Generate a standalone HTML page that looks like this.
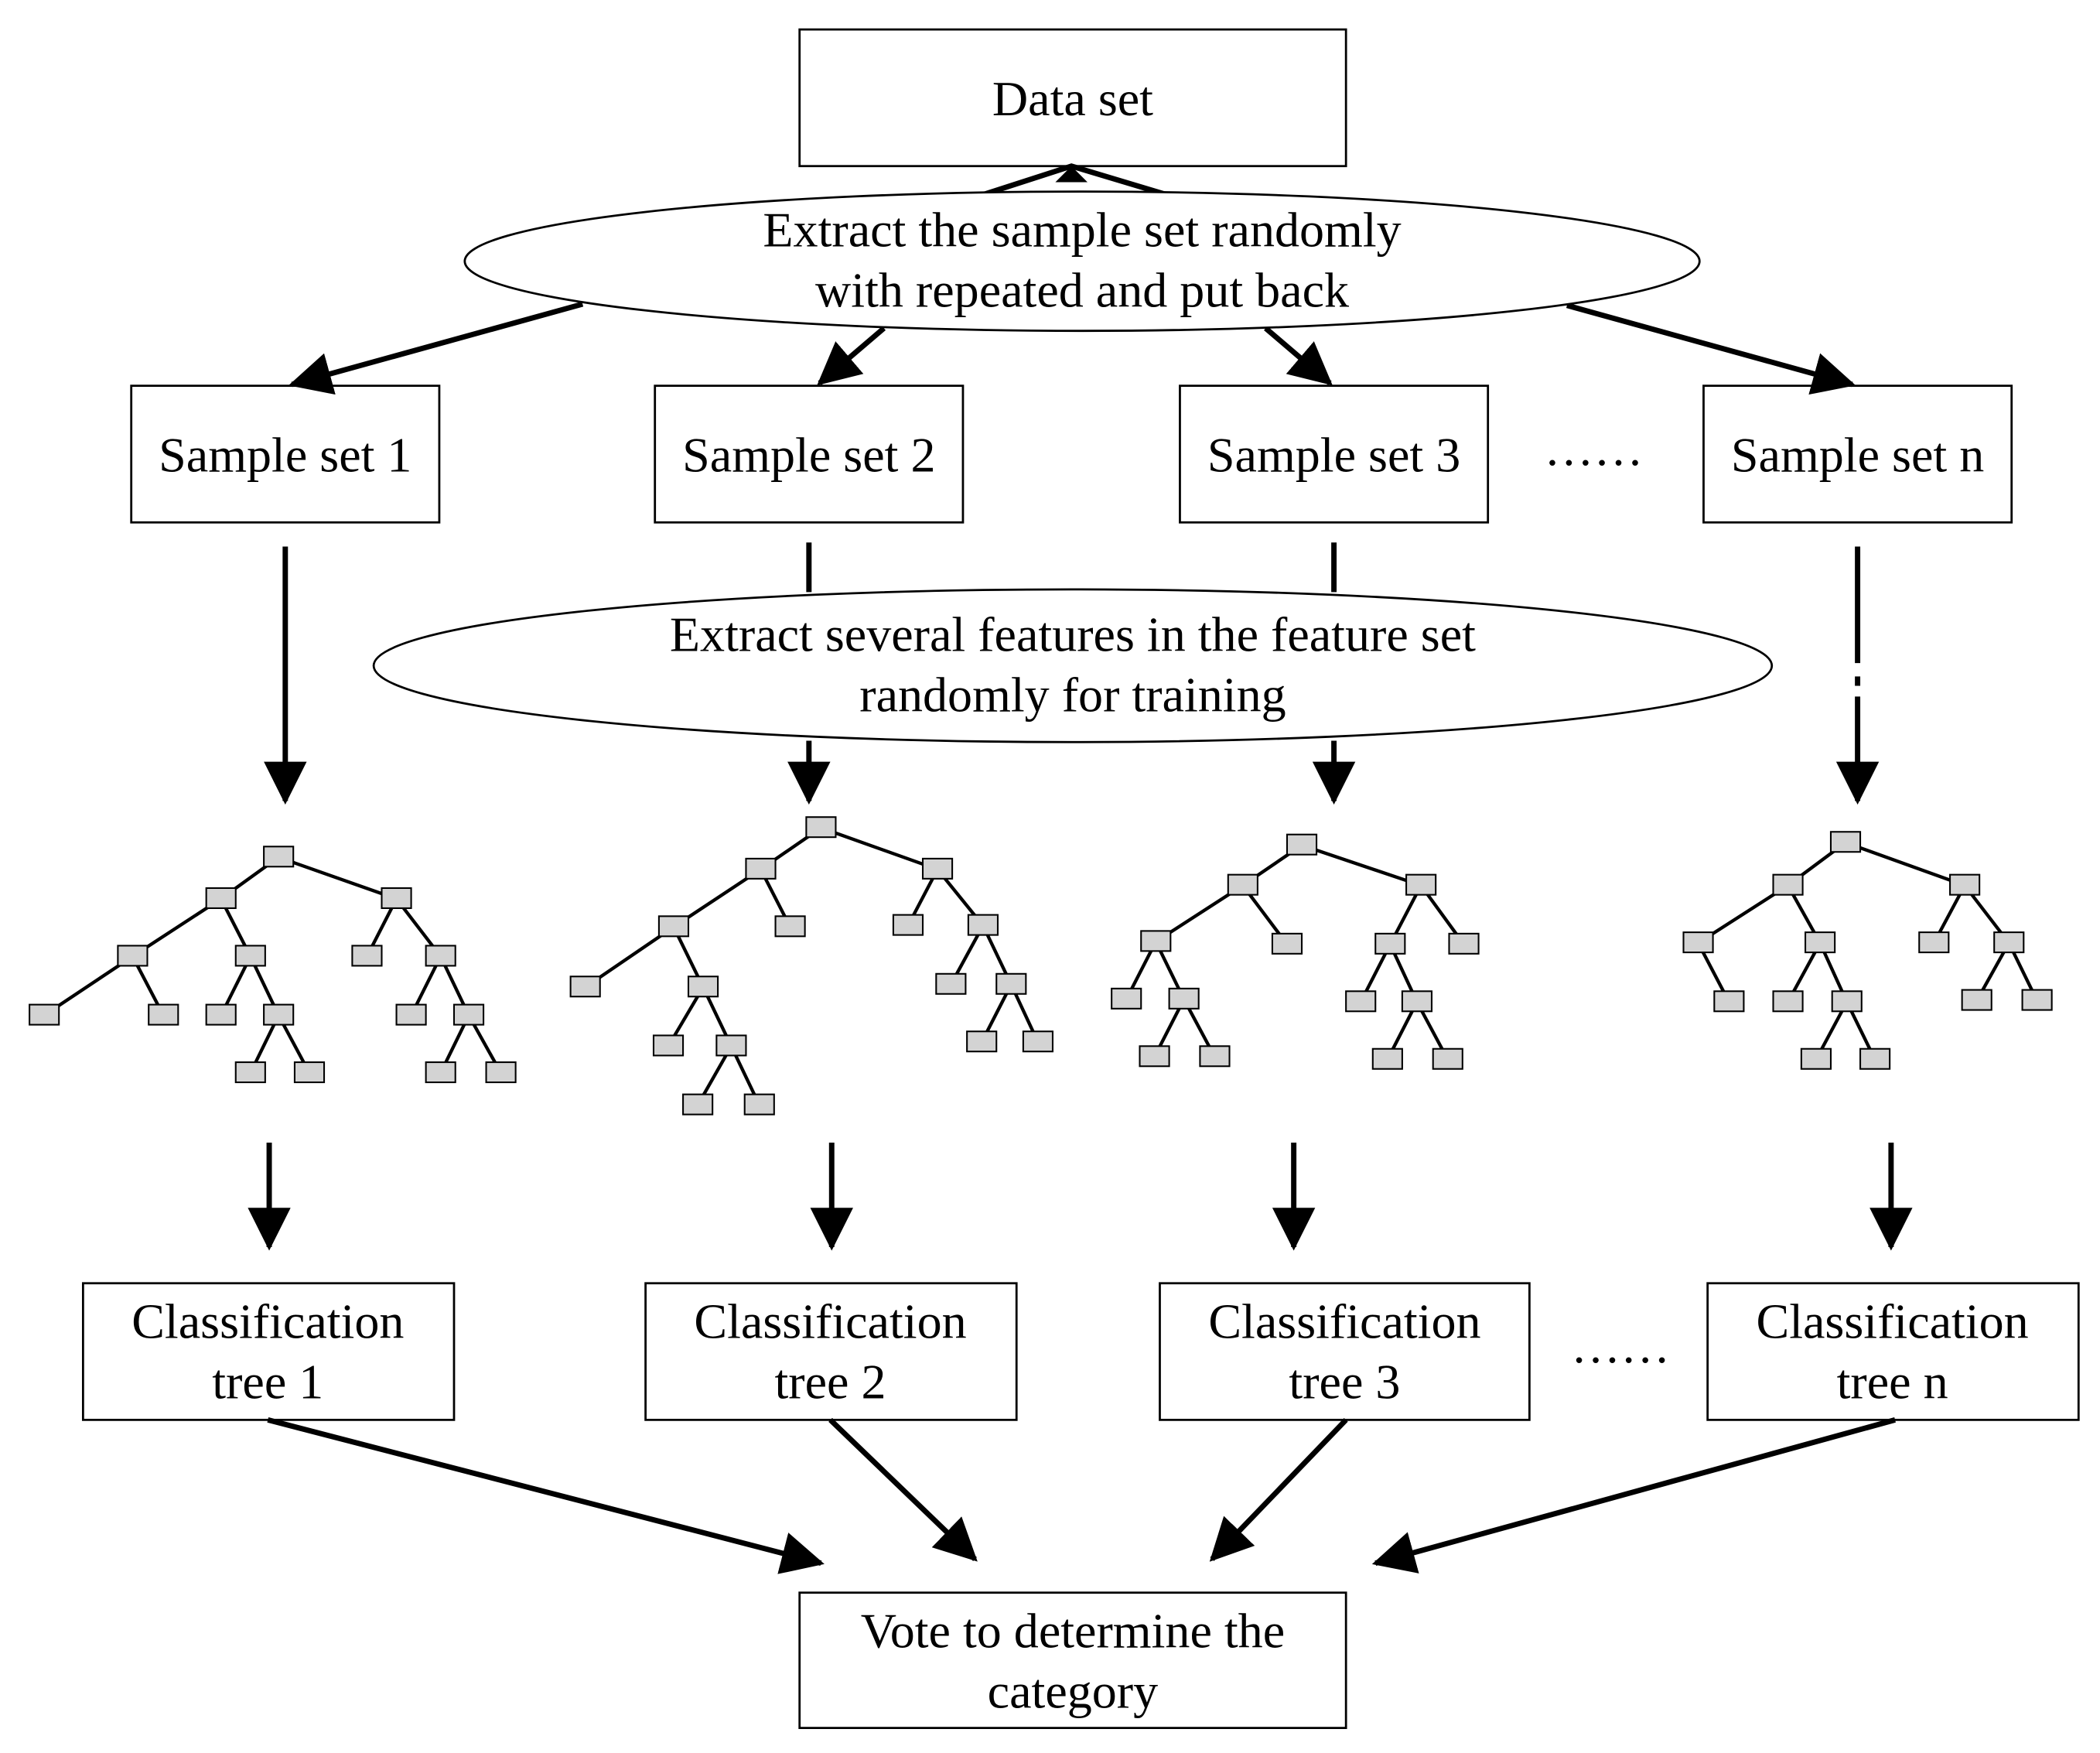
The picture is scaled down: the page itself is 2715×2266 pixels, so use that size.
<!DOCTYPE html>
<html><head><meta charset="utf-8"><style>
html,body{margin:0;padding:0;background:#fff;}
svg{display:block;}
text{font-family:"Liberation Serif",serif;font-size:37px;fill:#000;text-anchor:middle;}
</style></head><body>
<svg width="2715" height="2266" viewBox="0 0 1568 1308.7" xmlns="http://www.w3.org/2000/svg">
<defs>
<marker id="h" viewBox="0 0 12 12" refX="11" refY="6" markerWidth="8" markerHeight="8" orient="auto"><path d="M0,0 L12,6 L0,12 z" fill="#000"/></marker>
</defs>
<g fill="none" stroke="#000" stroke-width="1.6">
<rect x="597" y="22" width="408" height="102"/>
<rect x="98" y="288" width="230" height="102"/>
<rect x="489" y="288" width="230" height="102"/>
<rect x="881" y="288" width="230" height="102"/>
<rect x="1272" y="288" width="230" height="102"/>
<rect x="62" y="958" width="277" height="102"/>
<rect x="482" y="958" width="277" height="102"/>
<rect x="866" y="958" width="276" height="102"/>
<rect x="1275" y="958" width="277" height="102"/>
<rect x="597" y="1189" width="408" height="101"/>
</g>
<g stroke="#000" stroke-width="4" fill="none">
<polyline points="735,145 800,124 870,145"/>
</g>
<path d="M788,136 L800,124 L812,136 z" fill="#000"/>
<g stroke="#000" stroke-width="4" fill="none" marker-end="url(#h)">
<line x1="435" y1="227" x2="218" y2="287"/>
<line x1="660" y1="245" x2="612" y2="286"/>
<line x1="945" y1="245" x2="993" y2="286"/>
<line x1="1170" y1="228" x2="1383" y2="287"/>
<line x1="213" y1="408" x2="213" y2="598"/>
<line x1="604" y1="553" x2="604" y2="598"/>
<line x1="996" y1="553" x2="996" y2="598"/>
<line x1="1387" y1="520" x2="1387" y2="598"/>
<line x1="201" y1="853" x2="201" y2="931"/>
<line x1="621" y1="853" x2="621" y2="931"/>
<line x1="966" y1="853" x2="966" y2="931"/>
<line x1="1412" y1="853" x2="1412" y2="931"/>
<line x1="200" y1="1060" x2="613" y2="1167"/>
<line x1="620" y1="1060" x2="728" y2="1164"/>
<line x1="1005" y1="1060" x2="905" y2="1164"/>
<line x1="1415" y1="1060" x2="1027" y2="1167"/>
</g>
<g stroke="#000" stroke-width="4">
<line x1="604" y1="405" x2="604" y2="442"/>
<line x1="996" y1="405" x2="996" y2="442"/>
<line x1="1387" y1="408" x2="1387" y2="495"/>
<line x1="1387" y1="505" x2="1387" y2="512"/>
</g>
<ellipse cx="808" cy="195" rx="461" ry="52" fill="#fff" stroke="#000" stroke-width="1.6"/>
<ellipse cx="801" cy="497" rx="522" ry="57" fill="#fff" stroke="#000" stroke-width="1.6"/>
<text x="801" y="86">Data set</text>
<text x="808" y="184">Extract  the sample set randomly</text>
<text x="808" y="229">with repeated and put back</text>
<text x="213" y="352">Sample set 1</text>
<text x="604" y="352">Sample set 2</text>
<text x="996" y="352">Sample set 3</text>
<text x="1387" y="352">Sample set n</text>
<text x="1190" y="347">……</text>
<text x="801" y="486">Extract several features in the feature set</text>
<text x="801" y="531">randomly for training</text>
<text x="200" y="999">Classification</text>
<text x="200" y="1044">tree 1</text>
<text x="620" y="999">Classification</text>
<text x="620" y="1044">tree 2</text>
<text x="1004" y="999">Classification</text>
<text x="1004" y="1044">tree 3</text>
<text x="1413" y="999">Classification</text>
<text x="1413" y="1044">tree n</text>
<text x="1210" y="1017">……</text>
<text x="801" y="1230">Vote to determine the</text>
<text x="801" y="1275">category</text>
<g stroke="#000" stroke-width="2.5">
<!-- tree 1 -->
<line x1="208" y1="640" x2="165" y2="671"/><line x1="208" y1="640" x2="296" y2="671"/>
<line x1="165" y1="671" x2="99" y2="714"/><line x1="165" y1="671" x2="187" y2="714"/>
<line x1="99" y1="714" x2="33" y2="758"/><line x1="99" y1="714" x2="122" y2="758"/>
<line x1="187" y1="714" x2="165" y2="758"/><line x1="187" y1="714" x2="208" y2="758"/>
<line x1="208" y1="758" x2="187" y2="801"/><line x1="208" y1="758" x2="231" y2="801"/>
<line x1="296" y1="671" x2="274" y2="714"/><line x1="296" y1="671" x2="329" y2="714"/>
<line x1="329" y1="714" x2="307" y2="758"/><line x1="329" y1="714" x2="350" y2="758"/>
<line x1="350" y1="758" x2="329" y2="801"/><line x1="350" y1="758" x2="374" y2="801"/>
<!-- tree 2 -->
<line x1="613" y1="618" x2="568" y2="649"/><line x1="613" y1="618" x2="700" y2="649"/>
<line x1="568" y1="649" x2="503" y2="692"/><line x1="568" y1="649" x2="590" y2="692"/>
<line x1="503" y1="692" x2="437" y2="737"/><line x1="503" y1="692" x2="525" y2="737"/>
<line x1="525" y1="737" x2="499" y2="781"/><line x1="525" y1="737" x2="546" y2="781"/>
<line x1="546" y1="781" x2="521" y2="825"/><line x1="546" y1="781" x2="567" y2="825"/>
<line x1="700" y1="649" x2="678" y2="691"/><line x1="700" y1="649" x2="734" y2="691"/>
<line x1="734" y1="691" x2="710" y2="735"/><line x1="734" y1="691" x2="755" y2="735"/>
<line x1="755" y1="735" x2="733" y2="778"/><line x1="755" y1="735" x2="775" y2="778"/>
<!-- tree 3 -->
<line x1="972" y1="631" x2="928" y2="661"/><line x1="972" y1="631" x2="1061" y2="661"/>
<line x1="928" y1="661" x2="863" y2="703"/><line x1="928" y1="661" x2="961" y2="705"/>
<line x1="863" y1="703" x2="841" y2="746"/><line x1="863" y1="703" x2="884" y2="746"/>
<line x1="884" y1="746" x2="862" y2="789"/><line x1="884" y1="746" x2="907" y2="789"/>
<line x1="1061" y1="661" x2="1038" y2="705"/><line x1="1061" y1="661" x2="1093" y2="705"/>
<line x1="1038" y1="705" x2="1016" y2="748"/><line x1="1038" y1="705" x2="1058" y2="748"/>
<line x1="1058" y1="748" x2="1036" y2="791"/><line x1="1058" y1="748" x2="1081" y2="791"/>
<!-- tree 4 -->
<line x1="1378" y1="629" x2="1335" y2="661"/><line x1="1378" y1="629" x2="1467" y2="661"/>
<line x1="1335" y1="661" x2="1268" y2="704"/><line x1="1335" y1="661" x2="1359" y2="704"/>
<line x1="1268" y1="704" x2="1291" y2="748"/>
<line x1="1359" y1="704" x2="1335" y2="748"/><line x1="1359" y1="704" x2="1379" y2="748"/>
<line x1="1379" y1="748" x2="1356" y2="791"/><line x1="1379" y1="748" x2="1400" y2="791"/>
<line x1="1467" y1="661" x2="1444" y2="704"/><line x1="1467" y1="661" x2="1500" y2="704"/>
<line x1="1500" y1="704" x2="1476" y2="747"/><line x1="1500" y1="704" x2="1521" y2="747"/>
</g>
<g fill="#d3d3d3" stroke="#000" stroke-width="1.2">
<rect x="197" y="632" width="22" height="15"/><rect x="154" y="663" width="22" height="15"/><rect x="285" y="663" width="22" height="15"/>
<rect x="88" y="706" width="22" height="15"/><rect x="176" y="706" width="22" height="15"/><rect x="22" y="750" width="22" height="15"/>
<rect x="111" y="750" width="22" height="15"/><rect x="154" y="750" width="22" height="15"/><rect x="197" y="750" width="22" height="15"/>
<rect x="176" y="793" width="22" height="15"/><rect x="220" y="793" width="22" height="15"/><rect x="263" y="706" width="22" height="15"/>
<rect x="318" y="706" width="22" height="15"/><rect x="296" y="750" width="22" height="15"/><rect x="339" y="750" width="22" height="15"/>
<rect x="318" y="793" width="22" height="15"/><rect x="363" y="793" width="22" height="15"/>

<rect x="602" y="610" width="22" height="15"/><rect x="557" y="641" width="22" height="15"/><rect x="689" y="641" width="22" height="15"/>
<rect x="492" y="684" width="22" height="15"/><rect x="579" y="684" width="22" height="15"/><rect x="426" y="729" width="22" height="15"/>
<rect x="514" y="729" width="22" height="15"/><rect x="488" y="773" width="22" height="15"/><rect x="535" y="773" width="22" height="15"/>
<rect x="510" y="817" width="22" height="15"/><rect x="556" y="817" width="22" height="15"/><rect x="667" y="683" width="22" height="15"/>
<rect x="723" y="683" width="22" height="15"/><rect x="699" y="727" width="22" height="15"/><rect x="744" y="727" width="22" height="15"/>
<rect x="722" y="770" width="22" height="15"/><rect x="764" y="770" width="22" height="15"/>

<rect x="961" y="623" width="22" height="15"/><rect x="917" y="653" width="22" height="15"/><rect x="1050" y="653" width="22" height="15"/>
<rect x="852" y="695" width="22" height="15"/><rect x="950" y="697" width="22" height="15"/><rect x="830" y="738" width="22" height="15"/>
<rect x="873" y="738" width="22" height="15"/><rect x="851" y="781" width="22" height="15"/><rect x="896" y="781" width="22" height="15"/>
<rect x="1027" y="697" width="22" height="15"/><rect x="1082" y="697" width="22" height="15"/><rect x="1005" y="740" width="22" height="15"/>
<rect x="1047" y="740" width="22" height="15"/><rect x="1025" y="783" width="22" height="15"/><rect x="1070" y="783" width="22" height="15"/>

<rect x="1367" y="621" width="22" height="15"/><rect x="1324" y="653" width="22" height="15"/><rect x="1456" y="653" width="22" height="15"/>
<rect x="1257" y="696" width="22" height="15"/><rect x="1348" y="696" width="22" height="15"/><rect x="1280" y="740" width="22" height="15"/>
<rect x="1324" y="740" width="22" height="15"/><rect x="1368" y="740" width="22" height="15"/><rect x="1345" y="783" width="22" height="15"/>
<rect x="1389" y="783" width="22" height="15"/><rect x="1433" y="696" width="22" height="15"/><rect x="1489" y="696" width="22" height="15"/>
<rect x="1465" y="739" width="22" height="15"/><rect x="1510" y="739" width="22" height="15"/>
</g>
</svg>
</body></html>
